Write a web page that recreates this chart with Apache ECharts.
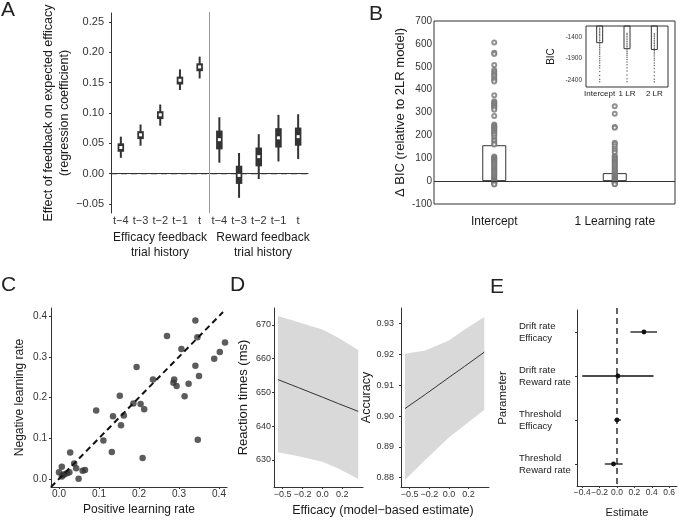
<!DOCTYPE html>
<html>
<head>
<meta charset="utf-8">
<title>Efficacy feedback and learning</title>
<script src="https://cdn.jsdelivr.net/npm/echarts@6/dist/echarts.min.js"></script>
<style>
  html, body { margin: 0; padding: 0; background: #fff; }
  #chart { width: 679px; height: 520px; }
</style>
</head>
<body>
<div id="chart"></div>
<script>
// ---- A: regression coefficients by trial history ----
const aCats = ['t−4', 't−3', 't−2', 't−1', 't', 't−4', 't−3', 't−2', 't−1', 't'];
const aLow  = [0.026, 0.046, 0.079, 0.138, 0.157, 0.018, -0.040, -0.009, 0.020, 0.024];
const aQ1   = [0.036, 0.057, 0.090, 0.147, 0.169, 0.040, -0.017, 0.012, 0.043, 0.046];
const aMed  = [0.043, 0.064, 0.097, 0.154, 0.176, 0.056, -0.003, 0.028, 0.059, 0.061];
const aQ3   = [0.050, 0.070, 0.103, 0.160, 0.182, 0.071, 0.013, 0.043, 0.075, 0.076];
const aHigh = [0.061, 0.081, 0.114, 0.172, 0.193, 0.093, 0.034, 0.065, 0.097, 0.098];
const aTicks = [-0.05, 0, 0.05, 0.10, 0.15, 0.20, 0.25];

// ---- B: delta BIC relative to 2LR model ----
const bCats = ['Intercept', '1 Learning rate'];
const bMeans = [157, 35];
const interceptDiff = [606, 561, 556, 508, 486, 478, 471, 464, 457, 449, 442, 435, 375, 349, 344, 340, 335,
  330, 325, 320, 312, 285, 247, 242, 238, 234, 230, 225, 220, 215, 210, 205, 200, 190, 180, 175, 165, 160,
  108, 103, 100, 96, 92, 88, 84, 80, 75, 70, 65, 60, 55, 50, 45, 40, 35, 30, 25, 20, 15, 10, 5, 2, 0,
  -3, -6, -9, -12, -15];
const oneLrDiff = [327, 294, 237, 233, 168, 162, 153, 142, 133, 124, 110, 105, 100, 95, 90, 85, 80, 75, 70,
  65, 60, 55, 50, 45, 40, 35, 30, 27, 24, 21, 18, 15, 12, 9, 6, 3, 1, 0, -2, -4, -6, -8, -10, -12, -14];
// inset: raw BIC
const insetCats = ['Intercept', '1 LR', '2 LR'];
const bicMeans = [-1540, -1680, -1700];
const bicIntercept = [-1190, -1230, -1260, -1300, -1330, -1360, -1400, -1440, -1480, -1520, -1560, -1600,
  -1640, -1680, -1720, -1760, -1800, -1850, -1900, -1950, -2000, -2060, -2120, -2200, -2290, -2380, -2440];
const bic1Lr = [-1310, -1340, -1380, -1420, -1460, -1500, -1540, -1580, -1620, -1660, -1700, -1740, -1780,
  -1820, -1870, -1920, -1980, -2040, -2110, -2190, -2280, -2370, -2440];
const bic2Lr = [-1320, -1350, -1390, -1430, -1470, -1510, -1550, -1590, -1630, -1670, -1710, -1750, -1790,
  -1840, -1890, -1940, -2000, -2060, -2130, -2210, -2300, -2380, -2440];
const insetTicks = [-2400, -1900, -1400];

// ---- C: learning rates ----
const posLR = [0.341, 0.270, 0.346, 0.415, 0.402, 0.306, 0.194, 0.341, 0.388, 0.350, 0.235, 0.288, 0.286,
  0.294, 0.324, 0.314, 0.152, 0.186, 0.204, 0.213, 0.093, 0.135, 0.162, 0.155, 0.111, 0.132, 0.347, 0.209,
  0.028, 0.007, 0.000, 0.013, 0.020, 0.026, 0.038, 0.043, 0.049, 0.059, 0.065, 0.007, 0.010];
const negLR = [0.389, 0.351, 0.348, 0.335, 0.312, 0.319, 0.275, 0.278, 0.295, 0.253, 0.244, 0.244, 0.236,
  0.228, 0.234, 0.203, 0.204, 0.185, 0.184, 0.171, 0.168, 0.154, 0.156, 0.132, 0.094, 0.066, 0.096, 0.051,
  0.065, 0.030, 0.016, 0.011, 0.014, 0.016, 0.038, 0.026, 0.000, 0.020, 0.022, 0.006, 0.010];
const identity = [-0.02, 0.41];
const lrTicks = [0, 0.1, 0.2, 0.3, 0.4];

// ---- D: model-based efficacy effects ----
const dX = [-0.56, -0.3, 0, 0.2, 0.45];
const rtFit  = [653.8, 651.4, 648.6, 646.7, 644.4];
const rtLow  = [632.3, 631.1, 629.5, 627.5, 624.4];
const rtHigh = [672.6, 670.8, 668.6, 666.2, 662.6];
const accFit  = [0.9024, 0.9070, 0.9125, 0.9161, 0.9207];
const accLow  = [0.8793, 0.8858, 0.8930, 0.8970, 0.9020];
const accHigh = [0.9202, 0.9212, 0.9245, 0.9280, 0.9321];
const dXTicks = [-0.5, -0.25, 0, 0.25];
const dXLabels = ['−0.5', '−0.2', '0.0', '0.2'];
const rtTicks = [630, 640, 650, 660, 670];
const accTicks = [0.88, 0.89, 0.90, 0.91, 0.92, 0.93];

// ---- E: DDM estimates ----
const eCats = ['Drift rate\nEfficacy', 'Drift rate\nReward rate', 'Threshold\nEfficacy', 'Threshold\nReward rate'];
const eEst  = [0.31, 0.01, 0.0, -0.04];
const eLow  = [0.155, -0.40, -0.03, -0.14];
const eHigh = [0.46, 0.42, 0.045, 0.065];
const eTicks = [-0.4, -0.2, 0, 0.2, 0.4, 0.6];

const FONT = 'Liberation Sans, Arial, sans-serif';
const INK = '#1a1a1a';
const AX = '#333';

const fmt = d => v => (v < 0 ? '−' : '') + Math.abs(v).toFixed(d);

function ggValueAxis(grid, min, max, ticks, formatter, labelSize, margin) {
  return {
    type: 'value', gridIndex: grid, min: min, max: max,
    axisLine: { show: true, onZero: false, lineStyle: { color: AX, width: 1 } },
    axisTick: { show: true, length: 2, customValues: ticks, lineStyle: { color: AX } },
    axisLabel: { customValues: ticks, formatter: formatter, fontSize: labelSize, color: '#333',
      margin: margin, showMinLabel: true, showMaxLabel: true, hideOverlap: false },
    splitLine: { show: false }
  };
}

function ribbon(xs, lo, hi) {
  return function (params, api) {
    if (params.dataIndex !== 0) return null;
    const pts = [];
    for (let i = 0; i < xs.length; i++) pts.push(api.coord([xs[i], hi[i]]));
    for (let i = xs.length - 1; i >= 0; i--) pts.push(api.coord([xs[i], lo[i]]));
    return { type: 'polygon', shape: { points: pts }, style: { fill: '#d9d9d9' } };
  };
}

const dFormat = v => dXLabels[dXTicks.findIndex(t => Math.abs(t - v) < 1e-9)];

const chart = echarts.init(document.getElementById('chart'));

const option = {
  animation: false,
  textStyle: { fontFamily: FONT, color: INK },
  grid: [
    { left: 111, top: 13, width: 197, height: 200 },                 // A
    { left: 434, top: 21, width: 241, height: 183, show: true, borderColor: AX, borderWidth: 1 }, // B
    { left: 586, top: 26, width: 82, height: 61, show: true, borderColor: AX, borderWidth: 1, backgroundColor: '#fff' }, // inset
    { left: 51, top: 308, width: 176, height: 179 },                 // C
    { left: 274, top: 308, width: 89, height: 179 },                 // D left
    { left: 401, top: 308, width: 88, height: 179 },                 // D right
    { left: 577, top: 310, width: 100, height: 176 }                 // E
  ],
  xAxis: [
    { type: 'category', gridIndex: 0, data: aCats,
      axisLine: { lineStyle: { color: AX } }, axisTick: { show: false },
      axisLabel: { interval: 0, fontSize: 11, color: '#333', margin: 2 } },
    { type: 'category', gridIndex: 1, data: bCats,
      axisLine: { show: false }, axisTick: { show: false },
      axisLabel: { interval: 0, fontSize: 12, color: INK, margin: 12 } },
    { type: 'category', gridIndex: 2, data: insetCats,
      axisLine: { show: false }, axisTick: { show: false },
      axisLabel: { interval: 0, fontSize: 8, color: INK, margin: 3 } },
    Object.assign(ggValueAxis(3, -0.02, 0.42, lrTicks, fmt(1), 10, 2),
      { name: 'Positive learning rate', nameLocation: 'middle', nameGap: 17,
        nameTextStyle: { fontSize: 12, color: INK } }),
    ggValueAxis(4, -0.61, 0.51, dXTicks, dFormat, 9, 3),
    ggValueAxis(5, -0.61, 0.51, dXTicks, dFormat, 9, 3),
    Object.assign(ggValueAxis(6, -0.46, 0.69, eTicks, fmt(1), 8.5, 2),
      { name: 'Estimate', nameLocation: 'middle', nameGap: 21,
        nameTextStyle: { fontSize: 11, color: INK } })
  ],
  yAxis: [
    Object.assign(ggValueAxis(0, -0.065, 0.265, aTicks, fmt(2), 11, 7),
      { name: 'Effect of feedback on expected efficacy\n(regression coefficient)', nameLocation: 'middle',
        nameGap: 37, nameTextStyle: { fontSize: 12.5, lineHeight: 16, color: INK } }),
    { type: 'value', gridIndex: 1, min: -100, max: 700, interval: 100,
      axisLine: { show: false }, axisTick: { show: false }, splitLine: { show: false },
      axisLabel: { fontSize: 10, color: '#333', margin: 2 },
      name: 'Δ BIC (relative to 2LR model)', nameLocation: 'middle', nameGap: 27,
      nameTextStyle: { fontSize: 13, color: INK } },
    { type: 'value', gridIndex: 2, min: -2560, max: -1140,
      axisLine: { show: false }, axisTick: { show: false }, splitLine: { show: false },
      axisLabel: { customValues: insetTicks, formatter: v => String(v), fontSize: 6.5, color: '#333', margin: 4 },
      name: 'BIC', nameLocation: 'middle', nameGap: 30, nameTextStyle: { fontSize: 10, color: INK } },
    Object.assign(ggValueAxis(3, -0.02, 0.42, lrTicks, fmt(1), 10, 4),
      { name: 'Negative learning rate', nameLocation: 'middle', nameGap: 25,
        nameTextStyle: { fontSize: 12, color: INK } }),
    Object.assign(ggValueAxis(4, 622, 675, rtTicks, v => String(v), 9, 3),
      { name: 'Reaction times (ms)', nameLocation: 'middle', nameGap: 24,
        nameTextStyle: { fontSize: 13, color: INK } }),
    Object.assign(ggValueAxis(5, 0.877, 0.935, accTicks, v => v.toFixed(2), 9, 7),
      { name: 'Accuracy', nameLocation: 'middle', nameGap: 27,
        nameTextStyle: { fontSize: 12.5, color: INK } }),
    { type: 'category', gridIndex: 6, data: eCats, inverse: true,
      axisLine: { onZero: false, lineStyle: { color: AX } },
      axisTick: { show: true, alignWithLabel: true, length: 2, lineStyle: { color: AX } },
      axisLabel: { interval: 0, align: 'left', margin: 58, fontSize: 9.5, lineHeight: 12, color: INK },
      name: 'Parameter', nameLocation: 'middle', nameGap: 68,
      nameTextStyle: { fontSize: 11.5, color: INK } }
  ],
  series: [
    // A: box + whisker per coefficient
    {
      type: 'custom', xAxisIndex: 0, yAxisIndex: 0,
      data: aMed.map((m, i) => [i, aLow[i], aQ1[i], m, aQ3[i], aHigh[i]]),
      renderItem: function (params, api) {
        const i = api.value(0);
        const lo = api.coord([i, api.value(1)]);
        const q1 = api.coord([i, api.value(2)]);
        const md = api.coord([i, api.value(3)]);
        const q3 = api.coord([i, api.value(4)]);
        const hi = api.coord([i, api.value(5)]);
        const bw = 6.5;
        const kids = [];
        if (params.dataIndex === 0) {
          const cs = params.coordSys;
          const zero = api.coord([0, 0])[1];
          const sepX = (api.coord([4, 0])[0] + api.coord([5, 0])[0]) / 2;
          kids.push({ type: 'line', shape: { x1: sepX, y1: cs.y - 1, x2: sepX, y2: cs.y + cs.height },
            style: { stroke: '#999', lineWidth: 1 } });
          kids.push({ type: 'line', shape: { x1: cs.x, y1: zero, x2: cs.x + cs.width, y2: zero },
            style: { stroke: AX, lineWidth: 1.3, lineDash: [6, 4] } });
        }
        kids.push({ type: 'line', shape: { x1: lo[0], y1: lo[1], x2: hi[0], y2: hi[1] },
          style: { stroke: '#333', lineWidth: 2 } });
        kids.push({ type: 'rect', shape: { x: q3[0] - bw / 2, y: q3[1], width: bw, height: q1[1] - q3[1] },
          style: { fill: '#333' } });
        kids.push({ type: 'rect', shape: { x: md[0] - 1.5, y: md[1] - 1.5, width: 3, height: 3 },
          style: { fill: '#fff' } });
        return { type: 'group', children: kids };
      }
    },
    // B: mean bars with zero line
    {
      type: 'bar', xAxisIndex: 1, yAxisIndex: 1, data: bMeans, barWidth: 24,
      itemStyle: { color: 'rgba(255,255,255,0)', borderColor: AX, borderWidth: 1 },
      markLine: { silent: true, symbol: ['none', 'none'], label: { show: false },
        lineStyle: { type: 'solid', color: AX, width: 1 }, data: [{ yAxis: 0 }] }
    },
    {
      type: 'scatter', xAxisIndex: 1, yAxisIndex: 1, symbol: 'emptyCircle', symbolSize: 4,
      itemStyle: { color: '#777', borderWidth: 0.6 },
      data: interceptDiff.map(v => [0, v]).concat(oneLrDiff.map(v => [1, v]))
    },
    // B inset
    {
      type: 'bar', xAxisIndex: 2, yAxisIndex: 2, data: bicMeans, barWidth: 7,
      itemStyle: { color: 'rgba(255,255,255,0)', borderColor: AX, borderWidth: 1 }
    },
    {
      type: 'scatter', xAxisIndex: 2, yAxisIndex: 2, symbolSize: 1.5,
      itemStyle: { color: '#444' },
      data: bicIntercept.map(v => [0, v]).concat(bic1Lr.map(v => [1, v]), bic2Lr.map(v => [2, v]))
    },
    // C
    {
      type: 'line', xAxisIndex: 3, yAxisIndex: 3, symbol: 'none',
      lineStyle: { color: '#111', width: 2, type: [6, 4] },
      data: identity.map(v => [v, v])
    },
    {
      type: 'scatter', xAxisIndex: 3, yAxisIndex: 3, symbolSize: 6.5,
      itemStyle: { color: '#333' },
      data: posLR.map((x, i) => [x, negLR[i]])
    },
    // D left
    { type: 'custom', xAxisIndex: 4, yAxisIndex: 4, renderItem: ribbon(dX, rtLow, rtHigh),
      data: dX.map((x, i) => [x, rtFit[i]]) },
    { type: 'line', xAxisIndex: 4, yAxisIndex: 4, symbol: 'none',
      lineStyle: { color: '#333', width: 1 }, data: dX.map((x, i) => [x, rtFit[i]]) },
    // D right
    { type: 'custom', xAxisIndex: 5, yAxisIndex: 5, renderItem: ribbon(dX, accLow, accHigh),
      data: dX.map((x, i) => [x, accFit[i]]) },
    { type: 'line', xAxisIndex: 5, yAxisIndex: 5, symbol: 'none',
      lineStyle: { color: '#333', width: 1 }, data: dX.map((x, i) => [x, accFit[i]]) },
    // E
    {
      type: 'custom', xAxisIndex: 6, yAxisIndex: 6,
      data: eEst.map((m, i) => [m, i, eLow[i], eHigh[i]]),
      renderItem: function (params, api) {
        const i = api.value(1);
        const kids = [];
        if (params.dataIndex === 0) {
          const cs = params.coordSys;
          const zx = api.coord([0, 0])[0];
          kids.push({ type: 'line', shape: { x1: zx, y1: cs.y - 2, x2: zx, y2: cs.y + cs.height + 1 },
            style: { stroke: '#111', lineWidth: 1.3, lineDash: [6, 4] } });
        }
        const lo = api.coord([api.value(2), i]);
        const hi = api.coord([api.value(3), i]);
        const pt = api.coord([api.value(0), i]);
        kids.push({ type: 'line', shape: { x1: lo[0], y1: lo[1], x2: hi[0], y2: hi[1] },
          style: { stroke: '#111', lineWidth: 1.3 } });
        kids.push({ type: 'circle', shape: { cx: pt[0], cy: pt[1], r: 2.4 }, style: { fill: '#111' } });
        return { type: 'group', children: kids };
      }
    }
  ],
  graphic: [
    { type: 'text', left: 1, top: 0, style: { text: 'A', font: '21px ' + FONT, fill: '#222' } },
    { type: 'text', left: 369, top: 4, style: { text: 'B', font: '21px ' + FONT, fill: '#222' } },
    { type: 'text', left: 1, top: 275, style: { text: 'C', font: '21px ' + FONT, fill: '#222' } },
    { type: 'text', left: 230, top: 275, style: { text: 'D', font: '21px ' + FONT, fill: '#222' } },
    { type: 'text', left: 490, top: 277, style: { text: 'E', font: '21px ' + FONT, fill: '#222' } },
    { type: 'text', x: 160, y: 245, style: { text: 'Efficacy feedback\ntrial history', font: '12px ' + FONT,
      lineHeight: 15, fill: INK, align: 'center', verticalAlign: 'middle' } },
    { type: 'text', x: 263, y: 245, style: { text: 'Reward feedback\ntrial history', font: '12px ' + FONT,
      lineHeight: 15, fill: INK, align: 'center', verticalAlign: 'middle' } },
    { type: 'text', x: 383, y: 511, style: { text: 'Efficacy (model−based estimate)', font: '12.5px ' + FONT,
      fill: INK, align: 'center', verticalAlign: 'middle' } }
  ]
};

chart.setOption(option);
</script>
</body>
</html>
